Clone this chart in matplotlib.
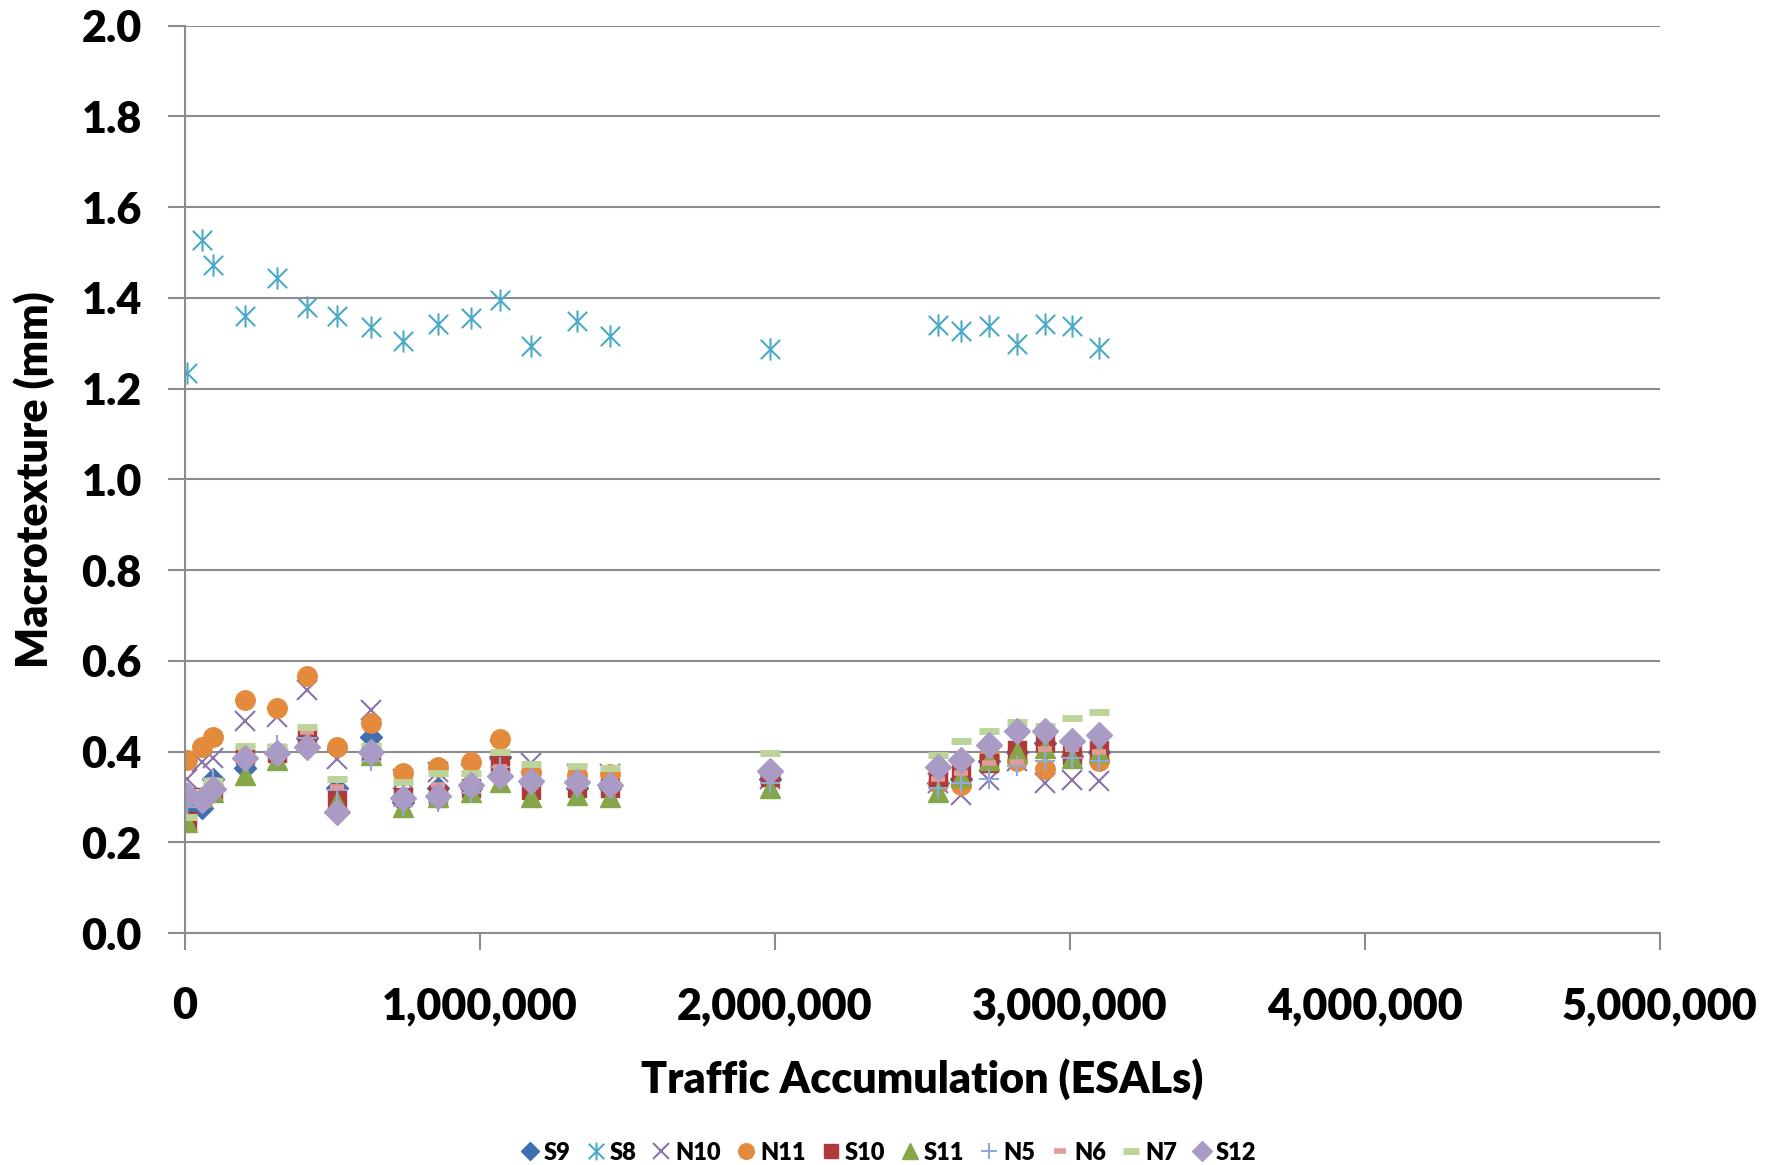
import matplotlib
matplotlib.use('Agg')
import matplotlib.pyplot as plt
from matplotlib.path import Path
from matplotlib.ticker import FuncFormatter, MultipleLocator

# traffic accumulation at each survey (ESALs)
esals = [9000, 57600, 94000, 203000, 313000, 415000, 516000, 630000, 738000,
         859000, 969000, 1068000, 1173000, 1330000, 1441000, 1985000,
         2553000, 2631000, 2725000, 2821000, 2915000, 3008000, 3098000]

# macrotexture (mm) per section
s9 = [0.277, 0.275, 0.34, 0.363, 0.40, 0.43, 0.319, 0.432, 0.29, 0.319, 0.32, 0.389,
      0.33, 0.32, 0.32, 0.34, 0.33, 0.34, 0.38, 0.40, 0.42, 0.39, 0.40]
s8 = [1.235, 1.527, 1.473, 1.360, 1.444, 1.380, 1.360, 1.336, 1.305, 1.342, 1.355, 1.396,
      1.295, 1.349, 1.316, 1.288, 1.341, 1.326, 1.338, 1.299, 1.343, 1.337, 1.289]
n10 = [0.339, 0.378, 0.385, 0.468, 0.477, 0.536, 0.383, 0.492, 0.34, 0.356, 0.35, 0.404,
       0.374, 0.35, 0.35, 0.34, 0.33, 0.305, 0.338, 0.38, 0.332, 0.338, 0.335]
n11 = [0.382, 0.411, 0.432, 0.514, 0.497, 0.567, 0.411, 0.464, 0.354, 0.367, 0.378, 0.427,
       0.356, 0.349, 0.351, 0.35, 0.33, 0.327, 0.39, 0.379, 0.362, 0.39, 0.379]
s10 = [0.247, 0.30, 0.315, 0.393, 0.398, 0.433, 0.293, 0.40, 0.30, 0.304, 0.319, 0.374,
       0.315, 0.319, 0.319, 0.345, 0.34, 0.353, 0.376, 0.404, 0.419, 0.393, 0.404]
s11 = [0.245, 0.30, 0.31, 0.349, 0.382, 0.422, 0.29, 0.393, 0.279, 0.30, 0.312, 0.334,
       0.30, 0.304, 0.30, 0.319, 0.312, 0.344, 0.382, 0.40, 0.408, 0.386, 0.40]
n5 = [0.277, 0.29, 0.34, 0.39, 0.415, 0.43, 0.315, 0.38, 0.28, 0.29, 0.308, 0.367,
      0.326, 0.319, 0.32, 0.33, 0.32, 0.331, 0.34, 0.368, 0.379, 0.386, 0.379]
n6 = [0.255, 0.30, 0.337, 0.40, 0.40, 0.444, 0.323, 0.393, 0.30, 0.326, 0.337, 0.367,
      0.34, 0.33, 0.33, 0.349, 0.34, 0.353, 0.375, 0.377, 0.406, 0.406, 0.399]
n7 = [0.257, 0.31, 0.335, 0.412, 0.41, 0.454, 0.339, 0.412, 0.334, 0.354, 0.354, 0.399,
      0.373, 0.368, 0.363, 0.396, 0.393, 0.424, 0.445, 0.465, 0.456, 0.474, 0.488]
s12 = [0.304, 0.293, 0.317, 0.387, 0.398, 0.411, 0.266, 0.40, 0.297, 0.302, 0.326, 0.346,
       0.336, 0.334, 0.326, 0.358, 0.366, 0.382, 0.415, 0.445, 0.445, 0.423, 0.437]

# asterisk marker like excel's (X with a vertical bar)
star = Path([(-1, -1), (1, 1), (-1, 1), (1, -1), (0, -1.15), (0, 1.15)],
            [Path.MOVETO, Path.LINETO, Path.MOVETO, Path.LINETO, Path.MOVETO, Path.LINETO])

series = [
    ('S9', s9, dict(marker='D', ms=11, color='#3F6FAF', mec='#3F6FAF')),
    ('S8', s8, dict(marker=star, ms=16, color='#4BAAC8', mec='#4BAAC8', mew=1.5, mfc='none')),
    ('N10', n10, dict(marker='x', ms=15, color='#8A73AD', mec='#8A73AD', mew=1.5)),
    ('N11', n11, dict(marker='o', ms=14, color='#E38A3C', mec='#E38A3C')),
    ('S10', s10, dict(marker='s', ms=13, color='#B03A38', mec='#B03A38')),
    ('S11', s11, dict(marker='^', ms=14, color='#86A64A', mec='#86A64A')),
    ('N5', n5, dict(marker='+', ms=15, color='#8EA9DB', mec='#8EA9DB', mew=1.5)),
    ('N6', n6, dict(marker='_', ms=10, color='#E39A9A', mec='#E39A9A', mew=4)),
    ('N7', n7, dict(marker='_', ms=15, color='#BCD49A', mec='#BCD49A', mew=5)),
    ('S12', s12, dict(marker='D', ms=13, color='#A99BC3', mec='#A99BC3')),
]

plt.rcParams['font.family'] = ['Lato', 'DejaVu Sans']
wt = 'heavy'

fig = plt.figure(figsize=(17.77, 11.65), dpi=100)
ax = fig.add_axes([0.104, 0.199, 0.830, 0.779])

for name, vals, kw in series:
    ax.plot(esals, vals, linestyle='none', label=name, **kw)

ax.set_xlim(0, 5000000)
ax.set_ylim(0, 2.0)
ax.xaxis.set_major_locator(MultipleLocator(1000000))
ax.yaxis.set_major_locator(MultipleLocator(0.2))
ax.xaxis.set_major_formatter(FuncFormatter(lambda v, p: f'{int(v):,}'))
ax.yaxis.set_major_formatter(FuncFormatter(lambda v, p: f'{v:.1f}'))

ax.grid(True, axis='y', color='#8C8C8C', linewidth=1.5)
ax.set_axisbelow(True)
for s in ['top', 'right']:
    ax.spines[s].set_visible(False)
for s in ['left', 'bottom']:
    ax.spines[s].set_color('#8C8C8C')
    ax.spines[s].set_linewidth(1.5)
ax.tick_params(axis='both', colors='#8C8C8C', length=12, width=1.5, labelcolor='black', labelsize=31)
ax.tick_params(axis='x', pad=26)
ax.tick_params(axis='y', pad=19)
for lab in ax.get_xticklabels() + ax.get_yticklabels():
    lab.set_fontweight(wt)

ax.set_xlabel('Traffic Accumulation (ESALs)', fontsize=31, fontweight=wt, labelpad=23)
ax.set_ylabel('Macrotexture (mm)', fontsize=31, fontweight=wt, labelpad=19)

fig.legend(loc='lower center', bbox_to_anchor=(0.499, -0.017), ncol=10, frameon=False,
           handletextpad=0.05, columnspacing=0.5, markerscale=0.8, handlelength=1.1,
           prop={'weight': wt, 'size': 17})

fig.savefig('out.png', dpi=100)
